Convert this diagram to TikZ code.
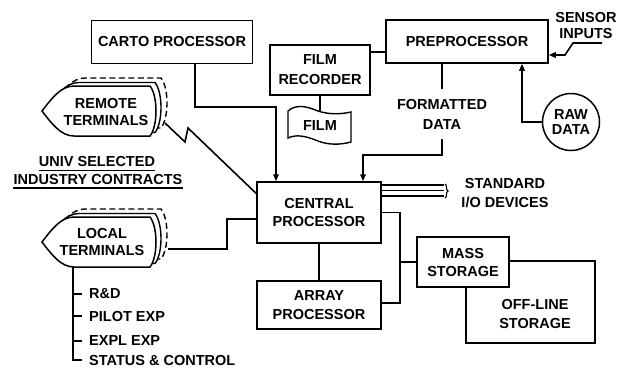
\documentclass[tikz,border=0pt]{standalone}
\usepackage{fontspec}
\setmainfont{Liberation Sans}
\usetikzlibrary{arrows.meta,decorations.pathreplacing}
\begin{document}
\begin{tikzpicture}[x=1pt,y=-1pt,
  every node/.style={font=\fontsize{14.5}{18}\selectfont\bfseries, align=center, inner sep=0pt},
  box/.style={draw, line width=1.5pt, fill=white},
  ln/.style={line width=1.6pt},
  arr/.style={line width=1.6pt, -{Triangle[length=7pt,width=5.5pt]}},
  uline/.style={line width=1.3pt},
  terminal/.pic={
    \path[pic actions] (0,0) .. controls (10,-13) and (19,-25) .. (32,-25) -- (108,-25)
      .. controls (116,-15) and (116,15) .. (108,25) -- (32,25)
      .. controls (19,25) and (10,13) .. (0,0) -- cycle;
  }
]
\useasboundingbox (0,0) rectangle (628,368);

% boxes
\node[box,minimum width=161pt,minimum height=43pt] (carto) at (172,42) {CARTO PROCESSOR};
\node[box,minimum width=100pt,minimum height=50pt] (filmrec) at (320,70) {FILM\\[2pt]RECORDER};
\node[box,minimum width=162pt,minimum height=43pt] (preproc) at (467,41.5) {PREPROCESSOR};
\node[box,minimum width=124pt,minimum height=61pt] (central) at (319,212.5) {CENTRAL\\PROCESSOR};
\node[box,minimum width=124pt,minimum height=48pt] (array) at (319,305) {ARRAY\\[1pt]PROCESSOR};
\node[box,minimum width=129pt,minimum height=82pt] (offline) at (530.5,302) {};
\node (offtext) at (535,313.5) {OFF-LINE\\[1pt]STORAGE};
\node[box,minimum width=92pt,minimum height=50pt] (mass) at (463,262) {MASS\\STORAGE};
\node[draw,circle,line width=1.5pt,minimum size=57pt] (raw) at (571,122) {RAW\\[-3pt]DATA};

% film
\node[minimum width=62pt,minimum height=30pt] (film) at (320,126) {FILM};
\draw[line width=1.4pt] (288,111) .. controls (296,104) and (306,106) .. (318,111)
   .. controls (330,115) and (342,114) .. (351,112) -- (351,142)
   .. controls (340,145) and (328,145) .. (318,141)
   .. controls (306,136) and (296,134) .. (288,138) -- cycle;

% terminals
\pic[draw, line width=1.4pt, dash pattern=on 6pt off 3.5pt, fill=white] at (53,103) {terminal};
\pic[draw, line width=1.4pt, fill=white] at (47,107.5) {terminal};
\pic[draw, line width=1.5pt, fill=white] at (42,111) {terminal};
\node (remote) at (106,112) {REMOTE\\[-1pt]TERMINALS};

\pic[draw, line width=1.4pt, dash pattern=on 6pt off 3.5pt, fill=white] at (53,234) {terminal};
\pic[draw, line width=1.4pt, fill=white] at (47,238.5) {terminal};
\pic[draw, line width=1.5pt, fill=white] at (42,242) {terminal};
\node (local) at (102,241.5) {LOCAL\\[-1pt]TERMINALS};

% labels
\node (univ1) at (97,162) {UNIV SELECTED};
\node (univ2) at (98,179.5) {INDUSTRY CONTRACTS};
\draw[uline] ([yshift=-3.5pt]univ1.base west) -- ([yshift=-3.5pt]univ1.base east);
\draw[uline] ([yshift=-3.5pt]univ2.base west) -- ([yshift=-3.5pt]univ2.base east);
\node (fmt) [minimum height=50pt] at (442,114) {FORMATTED\\[2pt]DATA};
\node (stdio) at (505,193.5) {STANDARD\\[1pt]I/O DEVICES};
\node (sensor) at (586,25.5) {SENSOR\\[-1.5pt]INPUTS};

% list
\coordinate (lst) at (73,267);
\node[anchor=west] (rd) at (89,294) {R\&D};
\node[anchor=west] (pilot) at (89,316) {PILOT EXP};
\node[anchor=west] (expl) at (89,341) {EXPL EXP};
\node[anchor=west] (status) at (89,360) {STATUS \& CONTROL};
\draw[ln] (lst) -- (lst |- status.west) -- ([xshift=-7pt]status.west);
\draw[ln] (lst |- rd.west) -- ([xshift=-7pt]rd.west);
\draw[ln] (lst |- pilot.west) -- ([xshift=-7pt]pilot.west);
\draw[ln] (lst |- expl.west) -- ([xshift=-7pt]expl.west);

% connectors
\coordinate (cartoturn) at (276,107);
\draw[arr] ([xshift=23pt]carto.south) |- (cartoturn) -- (cartoturn |- central.north);

\draw[ln] ([yshift=18pt]filmrec.east) coordinate (frA) -- (frA -| preproc.west);
\draw[ln] (filmrec.south) -- (filmrec.south |- film.north);

\draw[ln] (preproc.south -| fmt.north) -- (fmt.north);
\coordinate (fmtturn) at (363,155);
\draw[arr] (fmt.south) |- (fmtturn) -- (fmtturn |- central.north);

\draw[arr] (raw.west) -| ([xshift=55pt]preproc.south);

\coordinate (sensA) at (602,43);
\coordinate (sensB) at (573,43);
\coordinate (sensC) at (565,55);
\draw[arr] (sensA) -- (sensB) -- (sensC) -- (sensC -| preproc.east);

\coordinate (remA) at (165,123);
\coordinate (remB) at (185,142);
\coordinate (remC) at (188,128);
\draw[ln] (remA) -- (remB) -- (remC) -- ([yshift=19pt]central.west);

\coordinate (locA) at (168,249);
\draw[ln] (locA) -| ([xshift=-29pt,yshift=-6.5pt]central.west) -- ([yshift=-6.5pt]central.west);

\draw[ln] (central.south) -- (array.north);
\draw[ln] (central.east) -| ([xshift=18pt,yshift=2pt]array.east) -- ([yshift=2pt]array.east);
\draw[ln] (mass.west) -- ([xshift=18pt]central.east |- mass.west);

\foreach \s in {27.5,22,16.5}
  \draw[line width=1.2pt] ([yshift=\s pt]central.east) -- ++(62,0);
\draw[line width=1.1pt, decorate, decoration={brace,amplitude=3pt}] (445,184) -- (445,198);
\end{tikzpicture}
\end{document}
